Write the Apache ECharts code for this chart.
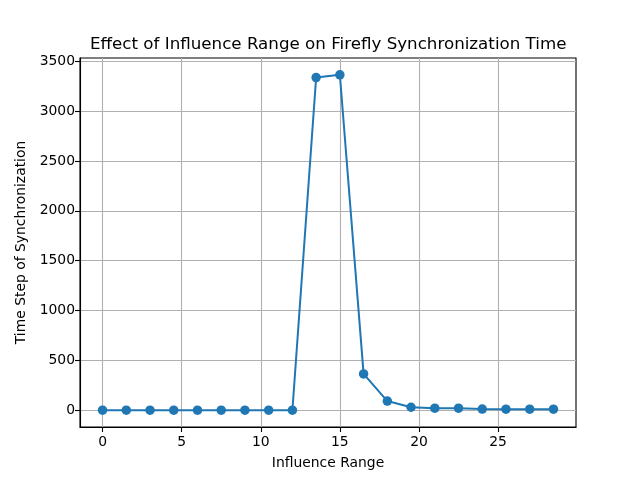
<!DOCTYPE html>
<html><head><meta charset="utf-8">
<script src="https://cdn.jsdelivr.net/npm/echarts@6/dist/echarts.min.js"></script>
<style>html,body{margin:0;padding:0;background:#fff}#c{width:640px;height:480px}</style>
</head><body><div id="c"></div>
<script>
const influenceRange = [0,1.5,3,4.5,6,7.5,9,10.5,12,13.5,15,16.5,18,19.5,21,22.5,24,25.5,27,28.5];
const syncTime = [0,0,0,0,0,0,0,0,0,3337,3365,364,92,30,20,20,12,10,10,10];
const xTicks = [0,5,10,15,20,25];
const yTicks = [0,500,1000,1500,2000,2500,3000,3500];

const chart = echarts.init(document.getElementById('c'), null, {renderer:'canvas'});
const font = 'DejaVu Sans';
const axisCommon = {
  axisLine:{show:true,onZero:false,lineStyle:{color:'#000',width:1.1}},
  axisTick:{show:true,inside:false,length:5,lineStyle:{color:'#000',width:1.1}},
  axisLabel:{color:'#000',fontFamily:font,fontSize:13.9,margin:5,formatter:v=>String(v)},
  splitLine:{show:true,lineStyle:{color:'#b0b0b0',width:1.1}},
  nameLocation:'middle',
  nameTextStyle:{color:'#000',fontFamily:font,fontSize:13.9}
};
chart.setOption({
  animation:false,
  backgroundColor:'#fff',
  title:{text:'Effect of Influence Range on Firefly Synchronization Time',left:85,top:31,
    textStyle:{color:'#000',fontFamily:font,fontSize:16.7,fontWeight:'normal'}},
  grid:{left:80,right:64,top:58,bottom:53,show:true,borderColor:'#000',borderWidth:1.1,backgroundColor:'transparent'},
  xAxis:Object.assign({},axisCommon,{type:'value',min:-1.425,max:29.925,splitNumber:6,
    name:'Influence Range',nameGap:29,
    axisTick:Object.assign({},axisCommon.axisTick,{customValues:xTicks}),
    axisLabel:Object.assign({},axisCommon.axisLabel,{customValues:xTicks,margin:8})}),
  yAxis:Object.assign({},axisCommon,{type:'value',min:-168.25,max:3533.25,splitNumber:7,
    name:'Time Step of Synchronization',nameGap:47,
    axisTick:Object.assign({},axisCommon.axisTick,{customValues:yTicks}),
    axisLabel:Object.assign({},axisCommon.axisLabel,{customValues:yTicks})}),
  series:[{type:'line',data:influenceRange.map((x,i)=>[x,syncTime[i]]),
    symbol:'circle',symbolSize:9.5,showSymbol:true,
    lineStyle:{color:'#1f77b4',width:2},itemStyle:{color:'#1f77b4'}}]
});
</script></body></html>
